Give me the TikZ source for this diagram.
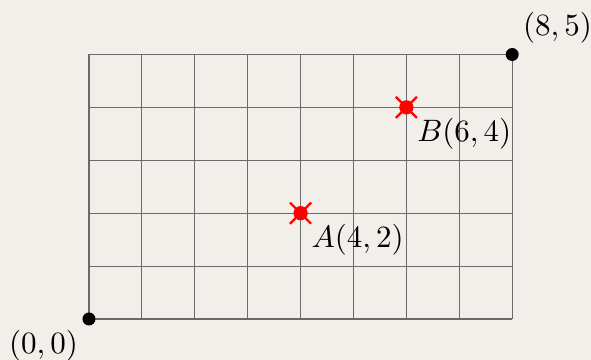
\documentclass[tikz,border=0pt]{standalone}
\definecolor{bgc}{HTML}{F2EFEA}
\definecolor{gridc}{HTML}{6A6A6A}
\tikzset{
  gridline/.style={draw=gridc, line width=0.35pt},
  enddot/.style={circle, fill=black, inner sep=0pt, minimum size=4.2pt},
  reddot/.style={circle, fill=red, inner sep=0pt, minimum size=4.6pt},
  redcross/.style={draw=red, line width=0.7pt},
}
\begin{document}
\begin{tikzpicture}[x=0.6cm, y=0.6cm]
  \fill[bgc] (-1.682,-0.775) rectangle (9.49,6.03);
  \useasboundingbox (-1.682,-0.775) rectangle (9.49,6.03);
  \foreach \i in {0,...,8} \draw[gridline] (\i,0) -- (\i,5);
  \foreach \j in {0,...,5} \draw[gridline] (0,\j) -- (8,\j);
  \node[enddot] (o) at (0,0) {};
  \node[enddot] (e) at (8,5) {};
  \node[below left] (ol) at (o.center) {$(0,0)$};
  \node[above right] (el) at (e.center) {$(8,5)$};
  \foreach \p/\q/\lab in {4/2/A, 6/4/B} {
    \draw[redcross] (\p-0.2,\q-0.2) -- (\p+0.2,\q+0.2)
                    (\p-0.2,\q+0.2) -- (\p+0.2,\q-0.2);
    \node[reddot] (\lab) at (\p,\q) {};
    \node[below right] (\lab l) at (\lab.center) {$\lab(\p,\q)$};
  }
\end{tikzpicture}
\end{document}
